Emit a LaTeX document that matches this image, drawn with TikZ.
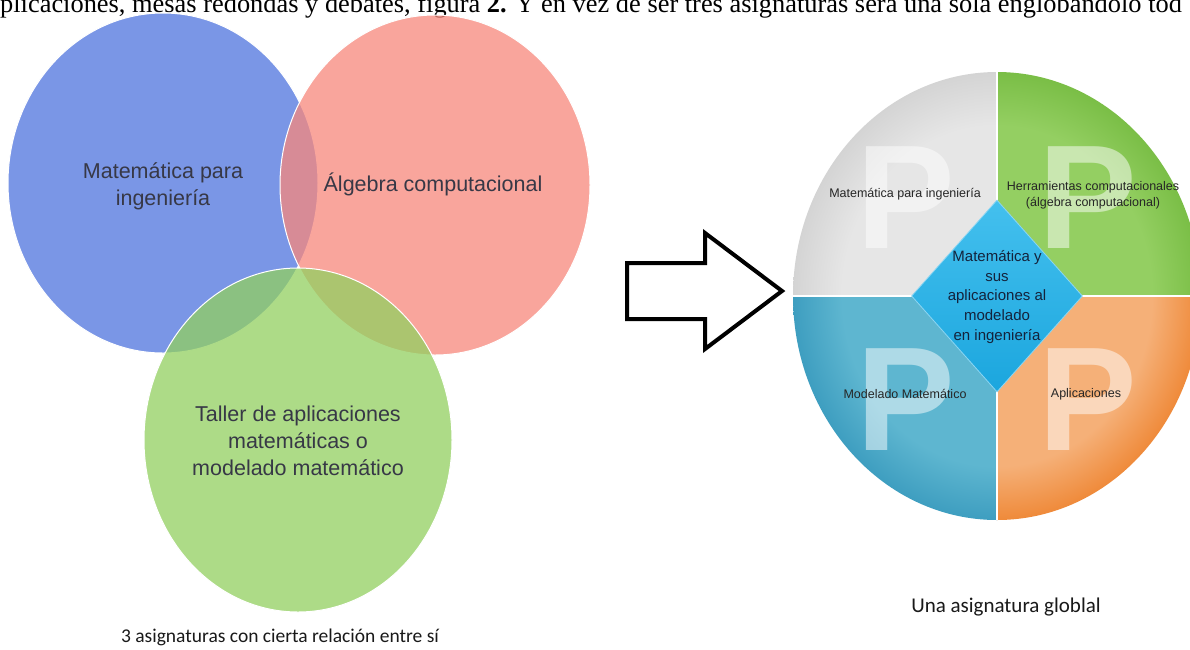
\documentclass[tikz,border=0pt]{standalone}
\usepackage{fontspec}
\setmainfont{Liberation Serif}
\newfontfamily\arial{Liberation Sans}
\newfontfamily\calib{Carlito}
\usetikzlibrary{shapes.geometric}
\definecolor{cblue}{RGB}{78,115,222}
\definecolor{cred}{RGB}{247,136,124}
\definecolor{cgreen}{RGB}{146,208,96}
\definecolor{ctext}{RGB}{55,56,70}
\definecolor{qgrayin}{RGB}{230,230,230}
\definecolor{qgrayout}{RGB}{212,212,212}
\definecolor{qgreenin}{RGB}{148,207,98}
\definecolor{qgreenout}{RGB}{122,190,70}
\definecolor{qbluein}{RGB}{94,182,208}
\definecolor{qblueout}{RGB}{62,158,192}
\definecolor{qorangein}{RGB}{245,176,120}
\definecolor{qorangeout}{RGB}{239,138,58}
\definecolor{dtop}{RGB}{68,192,238}
\definecolor{dbot}{RGB}{27,166,222}
\definecolor{dedge}{RGB}{140,214,243}
\definecolor{dtext}{RGB}{20,35,60}
\pgfdeclareradialshading{rimgray}{\pgfpoint{0bp}{0bp}}{color(0bp)=(qgrayin); color(19bp)=(qgrayin); color(25bp)=(qgrayout); color(50bp)=(qgrayout)}
\pgfdeclareradialshading{rimgreen}{\pgfpoint{0bp}{0bp}}{color(0bp)=(qgreenin); color(19bp)=(qgreenin); color(25bp)=(qgreenout); color(50bp)=(qgreenout)}
\pgfdeclareradialshading{rimblue}{\pgfpoint{0bp}{0bp}}{color(0bp)=(qbluein); color(19bp)=(qbluein); color(25bp)=(qblueout); color(50bp)=(qblueout)}
\pgfdeclareradialshading{rimorange}{\pgfpoint{0bp}{0bp}}{color(0bp)=(qorangein); color(19bp)=(qorangein); color(25bp)=(qorangeout); color(50bp)=(qorangeout)}
\tikzset{
  venn/.style={ellipse, draw=white, line width=1pt, fill opacity=0.75, draw opacity=1, inner sep=0pt, minimum width=310pt, minimum height=340pt},
  venntext/.style={font=\arial\fontsize{21.5}{27}\selectfont, text=ctext, align=center, inner sep=0pt},
  bigp/.style={font=\arial\bfseries\fontsize{148}{148}\selectfont, text=white, text opacity=0.5, inner sep=0pt, anchor=base},
  qlabel/.style={font=\arial\fontsize{12.5}{16}\selectfont, text=black!85, align=center, inner sep=0pt},
  coretext/.style={font=\arial\fontsize{15}{19.7}\selectfont, text=dtext, align=center, inner sep=0pt},
  caption/.style={font=\calib\selectfont, text=black!90, inner sep=0pt},
  blockarrow/.style={draw=black, line width=4pt, line join=miter, fill=white}
}
\begin{document}
\begin{tikzpicture}[x=1pt,y=-1pt]
\clip (0,0) rectangle (1190,649);
\fill[white] (0,0) rectangle (1190,649);
% cut-off line of body text at the top
\node[anchor=base west, inner sep=0pt, font=\fontsize{26.4}{26.4}\selectfont] (head) at (0,12) {plicaciones, mesas redondas y debates, figura \textbf{2.} Y en vez de ser tres asignaturas será una sola englobándolo tod};
% Venn diagram
\node[venn, fill=cblue] (math) at (163,183) {};
\node[venn, fill=cred] (alg) at (435,185) {};
\node[venn, fill=cgreen, minimum width=308pt, minimum height=344pt] (taller) at (298,440) {};
\node[venntext] (tmath) at (163,186) {Matemática para\\ingeniería};
\node[venntext, anchor=base] (talg) at (433,191) {Álgebra computacional};
\node[venntext] (ttaller) at (298,441) {Taller de aplicaciones\\matemáticas o\\modelado matemático};
\node[caption, font=\calib\fontsize{19.5}{20}\selectfont] (cap1) at (280,637) {3 asignaturas con cierta relación entre sí};
% block arrow
\draw[blockarrow] (627,263) -- (705,263) -- (705,233) -- (782,291) -- (705,349) -- (705,319) -- (627,319) -- cycle;
% pie
\coordinate (pc) at (997,296);
\begin{scope}\clip (793,72) rectangle (997,296);
\shade[shading=rimgray] (pc) ellipse [x radius=204, y radius=224];\end{scope}
\begin{scope}\clip (997,72) rectangle (1201,296);
\shade[shading=rimgreen] (pc) ellipse [x radius=204, y radius=224];\end{scope}
\begin{scope}\clip (793,296) rectangle (997,520);
\shade[shading=rimblue] (pc) ellipse [x radius=204, y radius=224];\end{scope}
\begin{scope}\clip (997,296) rectangle (1201,520);
\shade[shading=rimorange] (pc) ellipse [x radius=204, y radius=224];\end{scope}
\node[ellipse, minimum width=408pt, minimum height=448pt, inner sep=0pt] (pie) at (pc) {};
\draw[white, line width=2pt] (pie.north) -- (pie.south);
\draw[white, line width=2pt] (pie.west) -- (pie.east);
\node[bigp] (p1) at (906,248) {P};
\node[bigp] (p2) at (1088,248) {P};
\node[bigp] (p3) at (906,450) {P};
\node[bigp] (p4) at (1088,450) {P};
\node[qlabel] (q1) at (905,194) {Matemática para ingeniería};
\node[qlabel] (q2) at (1093,195) {Herramientas computacionales\\(álgebra computacional)};
\node[qlabel] (q3) at (905,394) {Modelado Matemático};
\node[qlabel] (q4) at (1086,394) {Aplicaciones};
\node[diamond, minimum width=171pt, minimum height=192pt, inner sep=0pt, draw=dedge, line width=0.8pt, top color=dtop, bottom color=dbot] (core) at (pc) {};
\node[coretext] (tcore) at (997,297) {Matemática y\\sus\\aplicaciones al\\modelado\\en ingeniería};
\node[caption, font=\calib\fontsize{21}{22}\selectfont] (cap2) at (1006,607) {Una asignatura globlal};
\end{tikzpicture}
\end{document}
